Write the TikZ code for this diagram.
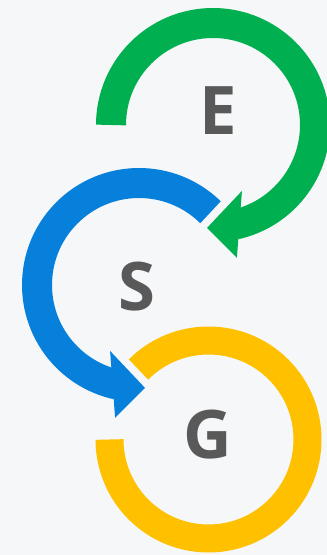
\documentclass[tikz,border=0pt]{standalone}
\usepackage{fontspec}
\setmainfont{Open Sans}
\usepackage{tikz}
\definecolor{bggray}{HTML}{F6F7F9}
\definecolor{esggreen}{HTML}{00B050}
\definecolor{esgblue}{HTML}{0780DB}
\definecolor{esgyellow}{HTML}{FFC000}
\definecolor{esggray}{HTML}{595959}
\tikzstyle{ringgreen}=[draw=esggreen, line width=30pt]
\tikzstyle{ringblue}=[draw=esgblue, line width=30pt]
\tikzstyle{ringyellow}=[draw=esgyellow, line width=28pt]
\tikzstyle{letter}=[inner sep=0pt, text=esggray, font=\fontsize{67}{67}\selectfont\bfseries]

\begin{document}
\begin{tikzpicture}[x=1pt, y=1pt]
		   \useasboundingbox (0,0) rectangle (327,555);
		   \fill[bggray] (0,0) rectangle (327,555);
		   \begin{scope}
			   \coordinate (cE) at (213, 430);
			   \coordinate (cS) at (139, 270);
			   \coordinate (cG) at (208.5, 115.5);
			   \node (E) at (218.5, 444)[letter] {E};
			   \node (S) at (136.5, 268)[letter] {S};
			   \node (G) at (207.5, 120)[letter] {G};
		   \end{scope}
		   \begin{scope}
			   % E ring, arrow towards S
			   \path [ringgreen] ([shift={(180:102)}]cE) arc[start angle=180, end angle=-77.5, radius=102];
			   \fill [esggreen] ([shift={(-66.3:72)}]cE) -- ([shift={(-93.3:103)}]cE) -- ([shift={(-79.8:135)}]cE) -- cycle;
			   % S ring, arrow towards G
			   \path [ringblue] ([shift={(45.5:102)}]cS) arc[start angle=45.5, end angle=257.5, radius=102];
			   \fill [esgblue] ([shift={(246.3:72)}]cS) -- ([shift={(273.3:103)}]cS) -- ([shift={(259.8:135)}]cS) -- cycle;
			   % G ring
			   \path [ringyellow] ([shift={(135:99)}]cG) arc[start angle=135, end angle=-180, radius=99];
		   \end{scope}
	   \end{tikzpicture}
\end{document}
